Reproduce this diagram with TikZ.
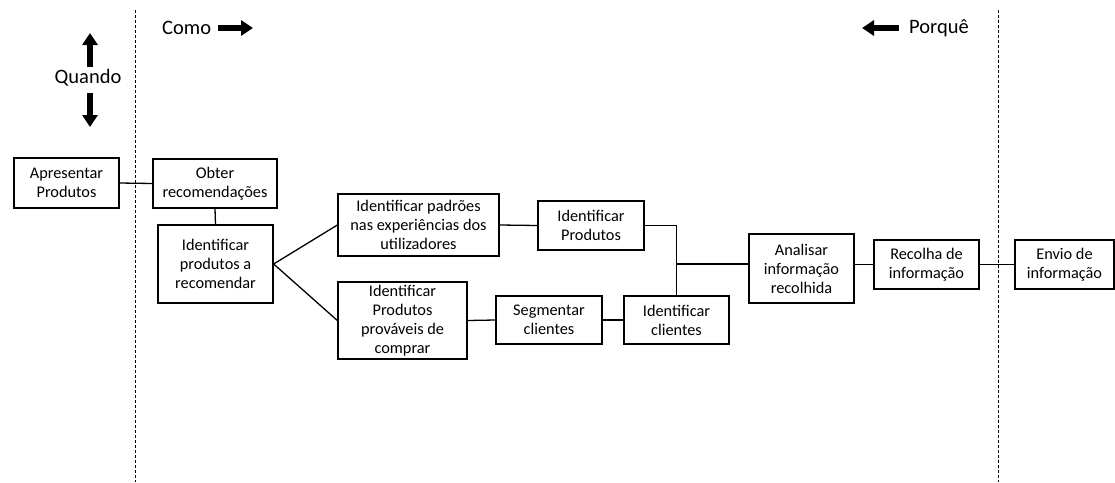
\documentclass[tikz,border=0pt]{standalone}
\usepackage{fontspec}
\setmainfont{Carlito}
\usetikzlibrary{arrows.meta}
\begin{document}
\begin{tikzpicture}[x=1pt,y=-1pt,
  box/.style={draw,line width=1.3pt,rectangle,align=center,inner sep=1pt,
    font=\fontsize{16.3}{19}\selectfont},
  link/.style={line width=1.3pt},
  divider/.style={line width=1pt,dash pattern=on 3pt off 2pt},
  label/.style={font=\fontsize{20.5}{24}\selectfont,inner sep=0pt},
  bigarrow/.style={line width=5.5pt,-{Triangle[length=12pt,width=15pt]}}]
\useasboundingbox (0,0) rectangle (1115,482);

% section dividers
\coordinate (d1t) at (135,10); \coordinate (d1b) at (135,482);
\coordinate (d2t) at (998,10); \coordinate (d2b) at (998,482);
\draw[divider] (d1t) -- (d1b);
\draw[divider] (d2t) -- (d2b);

% direction labels
\node[label,anchor=west] (como) at (162,28) {Como};
\coordinate (comoA) at (218,28); \coordinate (comoB) at (253,28);
\draw[bigarrow] (comoA) -- (comoB);

\node[label,anchor=east] (porque) at (969,28) {Porquê};
\coordinate (porA) at (899,28); \coordinate (porB) at (862,28);
\draw[bigarrow] (porA) -- (porB);

\node[label] (quando) at (88,78) {Quando};
\coordinate (qu1) at (90,67); \coordinate (qu2) at (90,33);
\coordinate (qd1) at (90,93); \coordinate (qd2) at (90,127);
\draw[bigarrow] (qu1) -- (qu2);
\draw[bigarrow] (qd1) -- (qd2);

% boxes
\node[box,minimum width=105pt,minimum height=50pt] (apr) at (66.5,183) {Apresentar\\Produtos};
\node[box,minimum width=124pt,minimum height=49pt] (obt) at (215,183.5) {Obter\\recomendações};
\node[box,minimum width=115pt,minimum height=78pt] (idp) at (215.5,264) {Identificar\\produtos a\\recomendar};
\node[box,minimum width=161pt,minimum height=62pt] (pad) at (418.5,225) {Identificar padrões\\nas experiências dos\\utilizadores};
\node[box,minimum width=129pt,minimum height=77pt] (prv) at (402.5,320.5) {Identificar\\Produtos\\prováveis de\\comprar};
\node[box,minimum width=106pt,minimum height=49pt] (iprod) at (591,225.5) {Identificar\\Produtos};
\node[box,minimum width=106pt,minimum height=48pt] (seg) at (549,320) {Segmentar\\clientes};
\node[box,minimum width=105pt,minimum height=48pt] (icli) at (676.5,320) {Identificar\\clientes};
\node[box,minimum width=105pt,minimum height=69pt] (ana) at (801.5,268.5) {Analisar\\informação\\recolhida};
\node[box,minimum width=105pt,minimum height=49pt] (rec) at (926.5,264.5) {Recolha de\\informação};
\node[box,minimum width=99pt,minimum height=49pt] (env) at (1064.5,264.5) {Envio de\\informação};

% connectors
\draw[link] (apr.east) -- (obt.west);
\draw[link] (obt.south) -- (idp.north);
\draw[link] (idp.east) -- (pad.west);
\draw[link] (idp.east) -- (prv.west);
\draw[link] (pad.east) -- (iprod.west);
\draw[link] (prv.east) -- (seg.west);
\draw[link] (seg.east) -- (icli.west);
\draw[link] (iprod.east) -| (icli.north);
\coordinate (j) at (676.5,264);
\draw[link] (j) -- (j -| ana.west);
\draw[link] (ana.east |- rec.west) -- (rec.west);
\draw[link] (rec.east) -- (env.west);
\end{tikzpicture}
\end{document}
